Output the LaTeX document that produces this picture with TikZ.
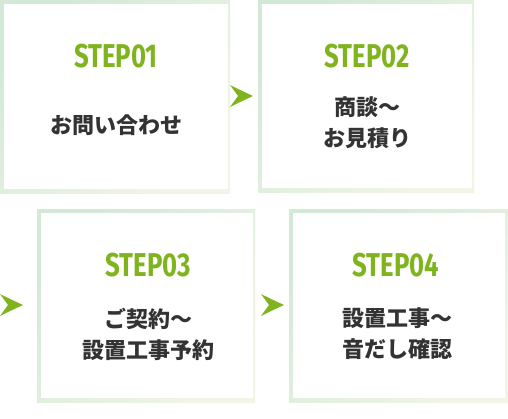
\documentclass[tikz,border=0pt]{standalone}
\usepackage{fontspec}
\newfontfamily\jp{Noto Sans CJK JP}
\newfontfamily\stepf{Fira Sans}
\definecolor{stepgreen}{HTML}{80B41F}
\definecolor{txt}{HTML}{333333}
\definecolor{frameA}{HTML}{D2E9D7}
\definecolor{frameB}{HTML}{F1F5E6}
\tikzset{
  frame/.style={shading=axis, top color=frameA, bottom color=frameB, shading angle=45},
  inner/.style={fill=white},
  steplabel/.style={text=stepgreen, font=\stepf\bfseries\fontsize{33}{33}\selectfont, inner sep=0pt, xscale=0.78},
  body/.style={text=txt, font=\jp\bfseries\fontsize{22}{31}\selectfont, align=center, inner sep=0pt},
  chev/.style={fill=stepgreen}
}
\begin{document}
\begin{tikzpicture}[x=1pt,y=-1pt]
\useasboundingbox (0,0) rectangle (508,418);
\fill[white] (0,0) rectangle (508,418);
% box 1
\shade[frame] (0,0) rectangle (230,193);
\fill[inner] (4,4) rectangle (228,189);
% box 2
\shade[frame] (258,0) rectangle (474,192);
\fill[inner] (262,4) rectangle (472,188);
% box 3
\shade[frame] (37,209) rectangle (255,402);
\fill[inner] (41,213) rectangle (253,398);
% box 4
\shade[frame] (289,209) rectangle (508,402);
\fill[inner] (293,213) rectangle (505,398);
% chevrons
\fill[chev] (230,85) .. controls (238,89) .. (253,96) .. controls (238,103) .. (230,107) -- (238,96) -- cycle;
\fill[chev] (261,294) .. controls (269,298) .. (284,305) .. controls (269,312) .. (261,316) -- (269,305) -- cycle;
\fill[chev] (0,294) .. controls (8,298) .. (23,305) .. controls (8,312) .. (0,316) -- (8,305) -- cycle;
% texts
\node[steplabel] (s1) at (116,56) {STEP01};
\node[body] (t1) at (116,125) {お問い合わせ};
\node[steplabel] (s2) at (367,56) {STEP02};
\node[body] (t2) at (367,123) {商談〜\\お見積り};
\node[steplabel] (s3) at (148,265) {STEP03};
\node[body] (t3) at (148,334) {ご契約〜\\設置工事予約};
\node[steplabel] (s4) at (396,265) {STEP04};
\node[body] (t4) at (397,334) {設置工事〜\\音だし確認};
\end{tikzpicture}
\end{document}
